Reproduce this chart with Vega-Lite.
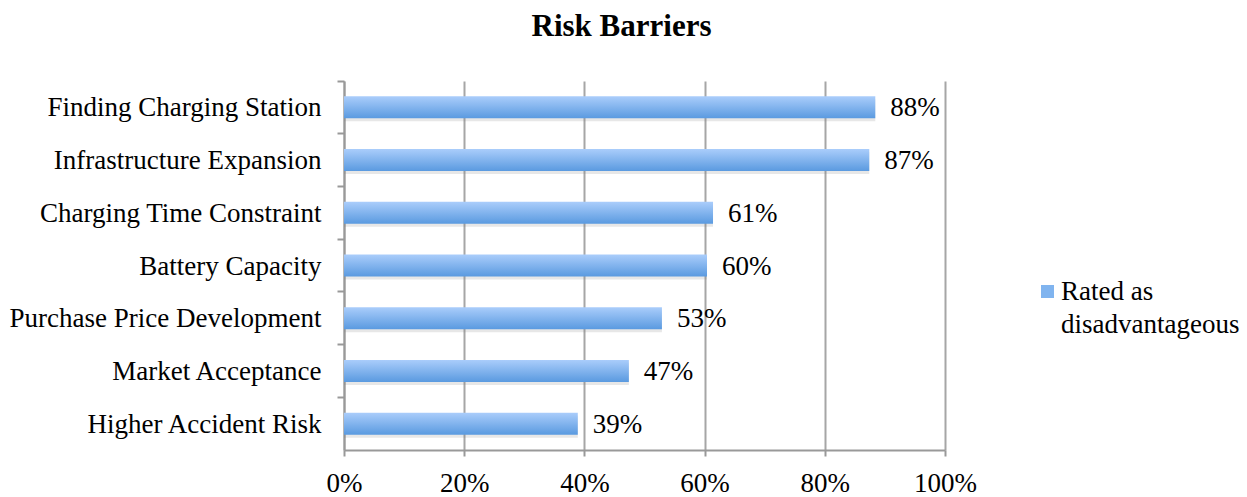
{
  "$schema": "https://vega.github.io/schema/vega-lite/v6.json",
  "autosize": {"type": "none"},
  "width": 601,
  "height": 369,
  "padding": {"left": 344, "top": 81, "right": 302, "bottom": 47},
  "background": "white",
  "title": {
    "text": "Risk Barriers",
    "font": "Liberation Serif",
    "fontSize": 31,
    "fontWeight": "bold",
    "color": "black",
    "anchor": "middle",
    "dx": -23,
    "offset": 37
  },
  "data": {
    "values": [
      {"category": "Finding Charging Station", "value": 0.884, "series": "Rated as disadvantageous"},
      {"category": "Infrastructure Expansion", "value": 0.874, "series": "Rated as disadvantageous"},
      {"category": "Charging Time Constraint", "value": 0.614, "series": "Rated as disadvantageous"},
      {"category": "Battery Capacity", "value": 0.604, "series": "Rated as disadvantageous"},
      {"category": "Purchase Price Development", "value": 0.529, "series": "Rated as disadvantageous"},
      {"category": "Market Acceptance", "value": 0.474, "series": "Rated as disadvantageous"},
      {"category": "Higher Accident Risk", "value": 0.389, "series": "Rated as disadvantageous"}
    ]
  },
  "config": {
    "view": {"stroke": null},
    "font": "Liberation Serif"
  },
  "encoding": {
    "y": {
      "field": "category",
      "type": "nominal",
      "sort": null,
      "scale": {"paddingInner": 0, "paddingOuter": 0},
      "axis": {
        "title": null,
        "labelFont": "Liberation Serif",
        "labelFontSize": 27,
        "labelColor": "black",
        "labelPadding": 16,
        "labelLimit": 400,
        "labelOffset": 1,
        "tickSize": 7,
        "tickColor": "#999999",
        "tickWidth": 2,
        "bandPosition": 0,
        "domainColor": "#999999",
        "domainWidth": 2,
        "grid": false
      }
    },
    "x": {
      "field": "value",
      "type": "quantitative",
      "scale": {"domain": [0, 1], "nice": false},
      "axis": {
        "title": null,
        "format": ".0%",
        "values": [0, 0.2, 0.4, 0.6, 0.8, 1.0],
        "labelFont": "Liberation Serif",
        "labelFontSize": 27,
        "labelColor": "black",
        "labelPadding": 14,
        "labelFlush": false,
        "tickSize": 6,
        "tickColor": "#999999",
        "tickWidth": 2,
        "domainColor": "#999999",
        "domainWidth": 2,
        "grid": true,
        "gridColor": "#a6a6a6",
        "gridWidth": 2
      }
    }
  },
  "layer": [
    {
      "mark": {
        "type": "bar",
        "size": 22,
        "yOffset": 3,
        "color": "#7a7a7a",
        "opacity": 0.18
      }
    },
    {
      "mark": {
        "type": "bar",
        "size": 22,
        "color": {
          "gradient": "linear",
          "x1": 0, "y1": 0, "x2": 0, "y2": 1,
          "stops": [
            {"offset": 0, "color": "#aacdfb"},
            {"offset": 1, "color": "#5a9ae0"}
          ]
        }
      }
    },
    {
      "mark": {"type": "point", "shape": "square", "filled": true, "opacity": 0},
      "encoding": {
        "x": {"datum": 0},
        "color": {
          "field": "series",
          "type": "nominal",
          "scale": {"range": ["#80b4ef"]},
          "legend": {
            "title": null,
            "orient": "none",
            "legendX": 690,
            "legendY": 197,
            "symbolType": "square",
            "symbolSize": 169,
            "symbolOpacity": 1,
            "symbolStrokeWidth": 0,
            "labelFont": "Liberation Serif",
            "labelFontSize": 27,
            "labelColor": "black",
            "labelOffset": 0,
            "labelLimit": 400,
            "labelExpr": "['Rated as', 'disadvantageous']",
            "encode": {
              "labels": {"update": {"lineHeight": {"value": 33}}}
            }
          }
        }
      }
    },
    {
      "mark": {
        "type": "text",
        "align": "left",
        "baseline": "middle",
        "dx": 15,
        "dy": 1,
        "font": "Liberation Serif",
        "fontSize": 27,
        "color": "black"
      },
      "encoding": {
        "text": {"field": "value", "type": "quantitative", "format": ".0%"}
      }
    }
  ]
}
